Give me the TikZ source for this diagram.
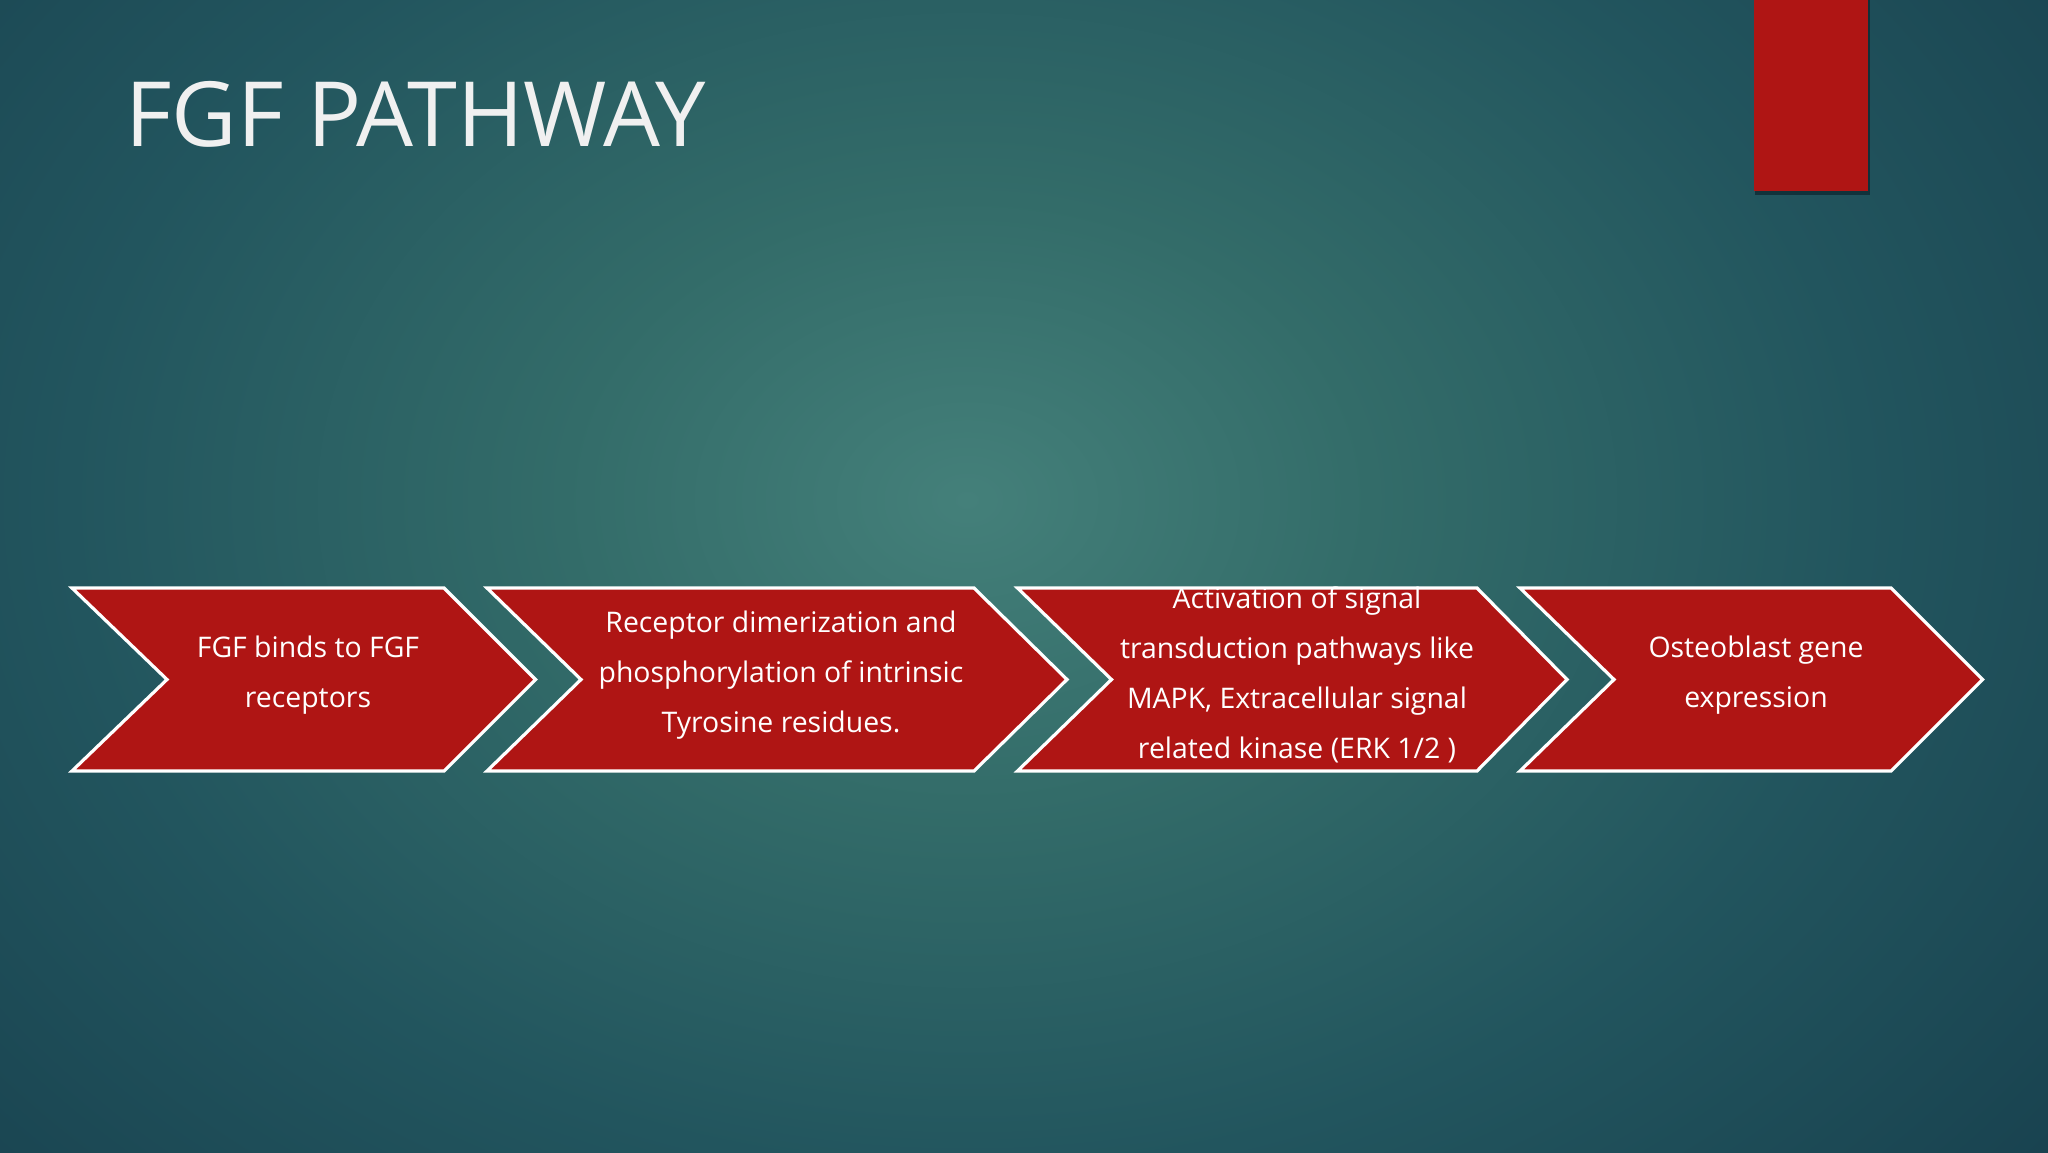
\documentclass[tikz,border=0pt]{standalone}
\usepackage{fontspec}
\setmainfont{Open Sans}
\usetikzlibrary{shadings}
\definecolor{bgA}{HTML}{44807A}
\definecolor{bgB}{HTML}{336C69}
\definecolor{bgC}{HTML}{22555E}
\definecolor{bgD}{HTML}{153B4A}
\definecolor{chred}{HTML}{AF1514}
\definecolor{shadowc}{HTML}{0E2A33}
\pgfdeclareradialshading{slidebg}{\pgfpoint{0bp}{0bp}}{%
  color(0bp)=(bgA); color(6.3bp)=(bgB); color(14bp)=(bgC); color(25bp)=(bgD); color(50bp)=(bgD)}
\tikzset{
  chev/.style={fill=chred, draw=white, line width=1.6pt, line join=miter},
  chevtext/.style={text=white, align=center, font=\fontsize{14.2}{25}\selectfont, inner sep=0pt},
  titletext/.style={text=white!94!black, font=\fontsize{45}{50}\selectfont, anchor=base west, inner sep=0pt}
}
\begin{document}
\begin{tikzpicture}[x=0.5pt,y=-0.5pt]
\useasboundingbox (0,0) rectangle (2048,1152);
\begin{scope}
\clip (0,0) rectangle (2048,1152);
\shade[shading=slidebg] (967,500) ellipse (1600 and 1200);
\end{scope}
% red tab top right
\fill[shadowc, opacity=0.8] (1755,0) rectangle (1870,195);
\fill[chred] (1754,0) rectangle (1868,191);
% title
\node[titletext] (title) at (125,146) {FGF PATHWAY};
% chevrons
\draw[chev] (72,588) -- (444,588) -- (535.5,679.5) -- (444,771) -- (72,771) -- (167,679.5) -- cycle;
\draw[chev] (487,588) -- (974,588) -- (1067,679.5) -- (974,771) -- (487,771) -- (581,679.5) -- cycle;
\draw[chev] (1017.5,588) -- (1477,588) -- (1567,679.5) -- (1477,771) -- (1017.5,771) -- (1111.5,679.5) -- cycle;
\draw[chev] (1520,588) -- (1891,588) -- (1982.5,679.5) -- (1891,771) -- (1520,771) -- (1614,679.5) -- cycle;
% texts
\node[chevtext] (s1) at (308,675) {FGF binds to FGF\\receptors};
\node[chevtext] (s2) at (781,675) {Receptor dimerization and\\phosphorylation of intrinsic\\Tyrosine residues.};
\node[chevtext] (s3) at (1297,675) {Activation of signal\\transduction pathways like\\MAPK, Extracellular signal\\related kinase (ERK 1/2 )};
\node[chevtext] (s4) at (1756,675) {Osteoblast gene\\expression};
\end{tikzpicture}
\end{document}
